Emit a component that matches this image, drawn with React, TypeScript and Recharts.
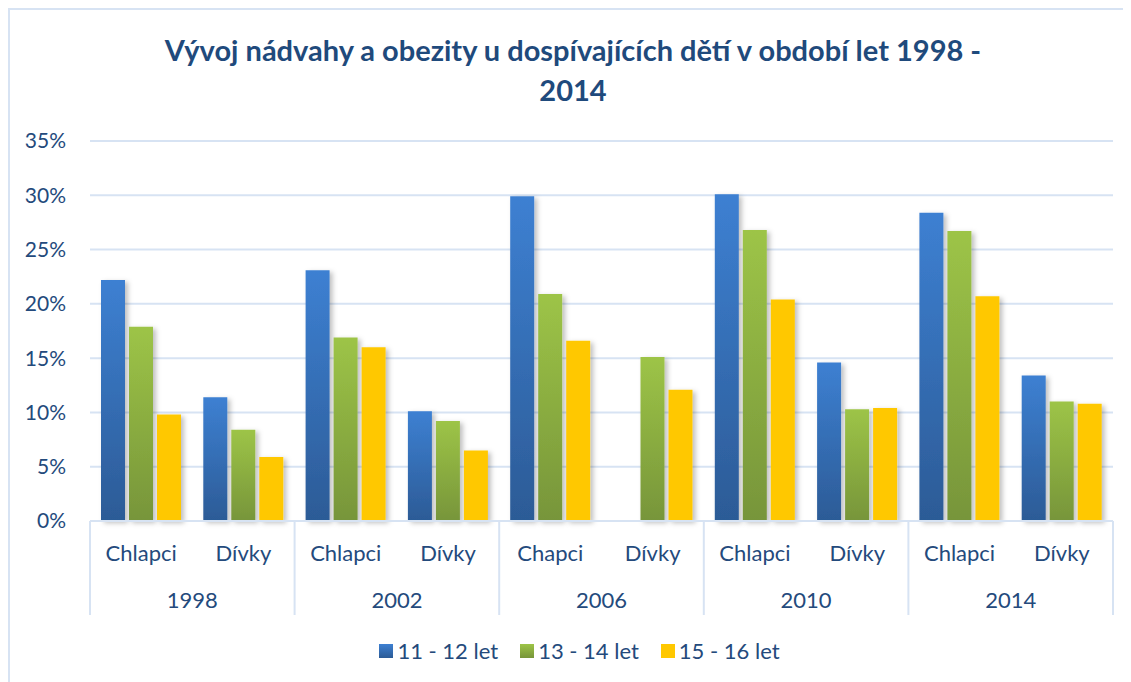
import { Bar, BarChart, CartesianGrid, Legend, XAxis, YAxis } from "recharts";

const groups = ["Chlapci", "Dívky", "Chlapci", "Dívky", "Chapci", "Dívky", "Chlapci", "Dívky", "Chlapci", "Dívky"];
const years = ["1998", "1998", "2002", "2002", "2006", "2006", "2010", "2010", "2014", "2014"];
const age11to12 = [22.2, 11.4, 23.1, 10.1, 29.9, null, 30.1, 14.6, 28.4, 13.4];
const age13to14 = [17.9, 8.4, 16.9, 9.2, 20.9, 15.1, 26.8, 10.3, 26.7, 11.0];
const age15to16 = [9.8, 5.9, 16.0, 6.5, 16.6, 12.1, 20.4, 10.4, 20.7, 10.8];
const yTicks = [0, 5, 10, 15, 20, 25, 30, 35];

const seriesNames = ["11 - 12 let", "13 - 14 let", "15 - 16 let"];

const rows = groups.map((g, i) => ({
  label: g,
  year: years[i],
  a: age11to12[i],
  b: age13to14[i],
  c: age15to16[i],
}));

const TEXT = "#244a7c";
const LINE = "#d7e3f3";
const FONT = "Lato, 'Open Sans', sans-serif";

function CategoryTick(props: any) {
  const { x, y, index, payload } = props;
  const half = payload && payload.offset ? payload.offset : 51;
  const row = rows[index];
  return (
    <g>
      <text x={x} y={y + 31} textAnchor="middle" dominantBaseline="central" fill={TEXT} fontSize={22} fontFamily={FONT}>
        {row.label}
      </text>
      {index % 2 === 0 && (
        <>
          <line x1={x - half} x2={x - half} y1={y} y2={y + 94} stroke={LINE} strokeWidth={2} />
          <text x={x + half} y={y + 78} textAnchor="middle" dominantBaseline="central" fill={TEXT} fontSize={22} fontFamily={FONT}>
            {row.year}
          </text>
        </>
      )}
      {index === rows.length - 1 && (
        <line x1={x + half} x2={x + half} y1={y} y2={y + 94} stroke={LINE} strokeWidth={2} />
      )}
    </g>
  );
}

const legendSwatches = [
  "linear-gradient(180deg,#3d80d2,#2c5b96)",
  "linear-gradient(180deg,#9dc447,#77953a)",
  "#ffc800",
];

function ChartLegend() {
  return (
    <div style={{ display: "flex", justifyContent: "center", gap: 22, fontFamily: FONT, fontSize: 22, color: TEXT, paddingLeft: 20 }}>
      {seriesNames.map((name, i) => (
        <div key={name} style={{ display: "flex", alignItems: "center", gap: 4 }}>
          <span style={{ width: 14, height: 14, background: legendSwatches[i], display: "inline-block" }} />
          <span>{name}</span>
        </div>
      ))}
    </div>
  );
}

export default function App() {
  return (
    <div
      style={{
        position: "relative",
        width: 1123,
        height: 674,
        boxShadow: `inset 2px 2px 0 ${LINE}`,
        background: "#fff",
      }}
    >
      <div
        style={{
          position: "absolute",
          top: 22,
          left: 0,
          width: 1130,
          textAlign: "center",
          fontFamily: FONT,
          fontWeight: 700,
          fontSize: 29,
          lineHeight: "40px",
          color: "#1f4a7c",
        }}
      >
        Vývoj nádvahy a obezity u dospívajících dětí v období let 1998 -<br />2014
      </div>
      <BarChart
        width={1123}
        height={674}
        data={rows}
        margin={{ top: 133, right: 18, left: 0, bottom: 61 }}
        barSize={24}
        barGap={4}
      >
        <defs>
          <linearGradient id="gBlue" x1="0" y1="0" x2="0" y2="1">
            <stop offset="0%" stopColor="#3d80d2" />
            <stop offset="100%" stopColor="#2c5b96" />
          </linearGradient>
          <linearGradient id="gGreen" x1="0" y1="0" x2="0" y2="1">
            <stop offset="0%" stopColor="#9dc447" />
            <stop offset="100%" stopColor="#77953a" />
          </linearGradient>
          <filter id="barShadow" x="-40%" y="-10%" width="190%" height="125%">
            <feDropShadow dx="3" dy="2" stdDeviation="2.5" floodColor="#000" floodOpacity="0.25" />
          </filter>
        </defs>
        <CartesianGrid vertical={false} stroke={LINE} strokeWidth={2} />
        <XAxis
          dataKey="label"
          interval={0}
          height={100}
          tickLine={false}
          tickSize={0}
          tickMargin={0}
          axisLine={{ stroke: LINE, strokeWidth: 2 }}
          tick={<CategoryTick />}
        />
        <YAxis
          width={82}
          domain={[0, 35]}
          ticks={yTicks}
          interval={0}
          axisLine={false}
          tickLine={false}
          tickSize={0}
          tickMargin={24}
          tickFormatter={(v: number) => `${v}%`}
          tick={{ fill: TEXT, fontSize: 21, fontFamily: FONT }}
        />
        <Legend
          layout="horizontal"
          verticalAlign="middle"
          align="center"
          wrapperStyle={{ top: 629, left: 0, width: 1123 }}
          content={<ChartLegend />}
        />
        <Bar dataKey="a" name={seriesNames[0]} fill="url(#gBlue)" filter="url(#barShadow)" isAnimationActive={false} />
        <Bar dataKey="b" name={seriesNames[1]} fill="url(#gGreen)" filter="url(#barShadow)" isAnimationActive={false} />
        <Bar dataKey="c" name={seriesNames[2]} fill="#ffc800" filter="url(#barShadow)" isAnimationActive={false} />
      </BarChart>
    </div>
  );
}
